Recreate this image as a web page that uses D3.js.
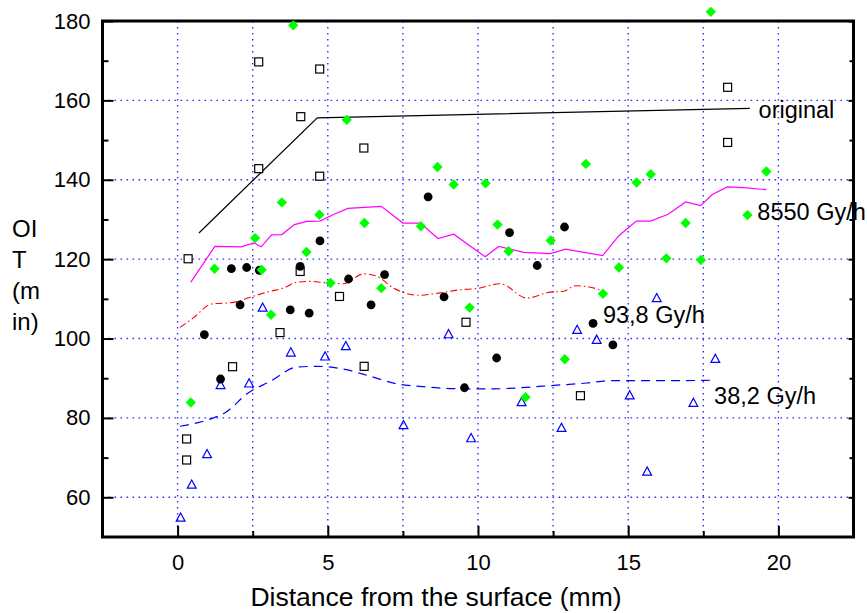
<!DOCTYPE html>
<html>
<head>
<meta charset="utf-8">
<script src="https://cdn.jsdelivr.net/npm/d3@7"></script>
<style>
  body { margin: 0; background: #fff; }
  text { font-family: "Liberation Sans", Arial, sans-serif; }
</style>
</head>
<body>
<div id="oit_div"></div>
<script>
// data: [distance (mm), OIT (min)]
var original_pts = [[0.35,120.1],[0.3,74.7],[0.3,69.4],[1.83,92.9],[2.7,169.7],[2.7,142.8],
    [3.41,101.5],[4.1,155.9],[4.08,116.9],[4.73,167.9],[4.73,140.9],[5.39,110.6],[6.2,148.0],
    [6.21,93.0],[9.6,104.1],[13.41,85.6],[18.31,163.3],[18.31,149.4]];

var gy8550_pts = [[3.85,178.9],[5.63,155.1],[8.65,143.2],[9.19,138.8],[10.25,139.1],[13.59,144.0],
    [15.28,139.3],[15.75,141.4],[19.6,142.1],[17.75,182.3],[3.47,134.3],[4.72,131.2],[6.22,129.1],
    [2.58,125.3],[4.29,121.8],[1.23,117.6],[2.8,117.3],[5.09,114.0],[6.78,112.7],[3.11,106.0],
    [0.44,83.9],[8.1,128.3],[10.65,128.7],[11.02,122.0],[12.42,124.7],[14.69,117.9],[16.27,120.2],
    [16.91,129.1],[17.42,119.8],[18.97,131.1],[14.16,111.3],[9.72,107.8],[12.89,94.8],[11.58,85.2]];

var gy938_pts = [[1.79,117.6],[2.3,117.9],[2.72,117.2],[4.08,118.2],[4.74,124.6],[5.69,115.0],
    [6.89,116.1],[6.44,108.5],[2.08,108.5],[3.75,107.2],[4.38,106.4],[0.89,101.0],[1.43,89.8],
    [8.34,135.7],[11.05,126.7],[12.88,128.1],[11.97,118.4],[8.87,110.5],[13.83,103.8],[14.49,98.4],
    [10.62,95.1],[9.55,87.6]];

var gy382_pts = [[0.1,54.8],[0.47,63.1],[0.98,70.8],[1.43,88.2],[2.38,88.6],[2.83,107.7],[3.77,96.4],
    [4.91,95.4],[5.6,98.0],[7.52,78.1],[9.77,74.8],[9.02,101.0],[13.3,102.1],[13.95,99.6],
    [15.95,110.1],[17.9,94.8],[11.45,83.9],[12.78,77.4],[15.05,85.6],[15.63,66.4],[17.17,83.7]];

var original_line = [[0.71,126.6],[4.65,155.6],[19.05,158.0]];

var gy8550_line = [[0.44,114.2],[1.24,123.2],[2.11,123.1],[2.54,124.1],[2.78,123.1],[3.13,126.1],
    [3.47,126.2],[3.89,128.7],[4.3,129.5],[4.74,129.6],[5.21,131.3],[5.67,132.8],[6.78,133.3],
    [7.5,129.1],[8.08,129.1],[8.67,125.2],[9.19,126.3],[10.24,120.6],[10.69,123.2],[11.52,121.7],
    [12.41,121.4],[12.91,122.5],[14.15,120.9],[14.69,125.9],[15.27,129.6],[15.74,129.6],[16.33,131.3],
    [16.91,134.4],[17.41,133.5],[17.8,136.3],[18.3,138.2],[18.85,138.0],[19.6,137.5]];

var gy938_line = [[0.08,102.8],[0.52,105.2],[1.13,108.7],[1.85,109.1],[2.41,110.4],[3.08,111.9],
    [3.52,112.7],[3.97,114.2],[4.41,114.4],[4.97,114.0],[5.52,113.8],[6.19,116.3],[6.63,115.7],
    [7.19,112.7],[8.02,110.9],[8.74,111.5],[9.41,112.3],[9.97,112.6],[10.74,113.8],[11.63,110.2],
    [12.41,111.7],[12.85,111.9],[13.24,113.3],[13.69,113.0],[14.13,112.1]];

var gy382_line = [[0.08,77.9],[1.08,79.7],[1.58,81.3],[2.35,86.3],[3.08,89.2],[3.97,92.8],[4.63,93.0],
    [5.52,92.3],[6.41,90.5],[7.3,88.6],[7.97,88.0],[9.19,87.4],[10.41,87.3],[11.41,87.6],[12.52,88.2],
    [13.63,88.8],[14.41,89.4],[15.3,89.4],[16.63,89.4],[17.77,89.5]];

var x_ticks = [0, 5, 10, 15, 20];
var y_ticks = [60, 80, 100, 120, 140, 160, 180];

// label text and baseline position in data units
var curve_labels = [
    {text: "original",  x: 19.34, y: 155.6},
    {text: "8550 Gy/h", x: 19.3,  y: 129.8},
    {text: "93,8 Gy/h", x: 14.16, y: 103.9},
    {text: "38,2 Gy/h", x: 17.86, y: 83.4}
];

var width = 867, height = 613;
var margin = {top: 21, right: 13.5, bottom: 76, left: 102.5};
var pw = width - margin.left - margin.right;
var ph = height - margin.top - margin.bottom;

var svg = d3.select("#oit_div")
    .append("svg")
    .attr("width", width)
    .attr("height", height);

var g = svg.append("g")
    .attr("transform", "translate(" + margin.left + "," + margin.top + ")");

var x = d3.scaleLinear().domain([-2.5, 22.5]).range([0, pw]);
var y = d3.scaleLinear().domain([50, 180]).range([ph, 0]);

// dotted blue grid
var grid_col = "#3030ff";
g.append("g")
    .selectAll("line")
    .data(d3.range(0, 22.5, 2.5))
    .enter()
    .append("line")
    .attr("x1", d => x(d)).attr("x2", d => x(d))
    .attr("y1", 0).attr("y2", ph)
    .attr("stroke", grid_col)
    .attr("stroke-width", 1.4)
    .attr("stroke-dasharray", "1.6,4.4");

g.append("g")
    .selectAll("line")
    .data(d3.range(60, 180, 20))
    .enter()
    .append("line")
    .attr("x1", 0).attr("x2", pw)
    .attr("y1", d => y(d)).attr("y2", d => y(d))
    .attr("stroke", grid_col)
    .attr("stroke-width", 1.4)
    .attr("stroke-dasharray", "1.6,4.4");

// axes, ticks pointing inward
function style_axis(sel) {
    sel.select(".domain").remove();
    sel.selectAll("line").attr("stroke", "#000").attr("stroke-width", 2);
    sel.selectAll("text")
	.attr("font-size", 22)
	.attr("fill", "#000");
}

var xb = g.append("g").attr("transform", "translate(0," + ph + ")")
    .call(d3.axisBottom(x).tickValues(x_ticks).tickSize(-11).tickPadding(17).tickFormat(d3.format("d")));
style_axis(xb);
var xbm = g.append("g").attr("transform", "translate(0," + ph + ")")
    .call(d3.axisBottom(x).tickValues([-2.5, 2.5, 7.5, 12.5, 17.5, 22.5]).tickSize(-6).tickFormat(""));
style_axis(xbm);

var yl = g.append("g")
    .call(d3.axisLeft(y).tickValues(y_ticks).tickSize(-11).tickPadding(12).tickFormat(d3.format("d")));
style_axis(yl);
var ylm = g.append("g")
    .call(d3.axisLeft(y).tickValues([70, 90, 110, 130, 150, 170]).tickSize(-6).tickFormat(""));
style_axis(ylm);

var yr = g.append("g").attr("transform", "translate(" + pw + ",0)")
    .call(d3.axisRight(y).tickValues(y_ticks).tickSize(-5).tickFormat(""));
style_axis(yr);
var yrm = g.append("g").attr("transform", "translate(" + pw + ",0)")
    .call(d3.axisRight(y).tickValues([70, 90, 110, 130, 150, 170]).tickSize(-4).tickFormat(""));
style_axis(yrm);

// frame
g.append("rect")
    .attr("x", 0).attr("y", 0)
    .attr("width", pw).attr("height", ph)
    .attr("fill", "none")
    .attr("stroke", "#000")
    .attr("stroke-width", 3);

// lines
var line_lin = d3.line().x(d => x(d[0])).y(d => y(d[1]));
var line_smooth = d3.line().x(d => x(d[0])).y(d => y(d[1])).curve(d3.curveMonotoneX);

g.append("path").datum(original_line)
    .attr("d", line_lin).attr("fill", "none")
    .attr("stroke", "#000").attr("stroke-width", 1.2);

g.append("path").datum(gy8550_line)
    .attr("d", line_lin).attr("fill", "none")
    .attr("stroke", "#ff00ff").attr("stroke-width", 1.2);

g.append("path").datum(gy938_line)
    .attr("d", line_smooth).attr("fill", "none")
    .attr("stroke", "#ff0000").attr("stroke-width", 1.1)
    .attr("stroke-dasharray", "7,3,1.5,3");

g.append("path").datum(gy382_line)
    .attr("d", line_smooth).attr("fill", "none")
    .attr("stroke", "#0000ff").attr("stroke-width", 1.2)
    .attr("stroke-dasharray", "9,6");

// markers
g.append("g").selectAll("rect")
    .data(original_pts)
    .enter()
    .append("rect")
    .attr("x", d => x(d[0]) - 4)
    .attr("y", d => y(d[1]) - 4)
    .attr("width", 8).attr("height", 8)
    .attr("fill", "#fff")
    .attr("stroke", "#000")
    .attr("stroke-width", 1.2);

g.append("g").selectAll("path")
    .data(gy382_pts)
    .enter()
    .append("path")
    .attr("transform", d => "translate(" + x(d[0]) + "," + y(d[1]) + ")")
    .attr("d", "M0,-5L4.4,3.2L-4.4,3.2Z")
    .attr("fill", "none")
    .attr("stroke", "#0000ff")
    .attr("stroke-width", 1.2);

g.append("g").selectAll("circle")
    .data(gy938_pts)
    .enter()
    .append("circle")
    .attr("cx", d => x(d[0]))
    .attr("cy", d => y(d[1]))
    .attr("r", 4.4)
    .attr("fill", "#000");

g.append("g").selectAll("path")
    .data(gy8550_pts)
    .enter()
    .append("path")
    .attr("transform", d => "translate(" + x(d[0]) + "," + y(d[1]) + ")")
    .attr("d", "M0,-5.2L5.2,0L0,5.2L-5.2,0Z")
    .attr("fill", "#00ff00");

// curve labels
g.append("g").selectAll("text")
    .data(curve_labels)
    .enter()
    .append("text")
    .attr("x", d => x(d.x))
    .attr("y", d => y(d.y))
    .attr("font-size", 23.5)
    .text(d => d.text);

// axis titles
svg.append("text")
    .attr("x", 436)
    .attr("y", 606)
    .attr("text-anchor", "middle")
    .attr("font-size", 26.5)
    .text("Distance from the surface (mm)");

svg.append("text")
    .attr("font-size", 24)
    .selectAll("tspan")
    .data(["OI", "T", "(m", "in)"])
    .enter()
    .append("tspan")
    .attr("x", 12)
    .attr("y", (d, i) => 237 + i * 31)
    .text(d => d);
</script>
</body>
</html>
